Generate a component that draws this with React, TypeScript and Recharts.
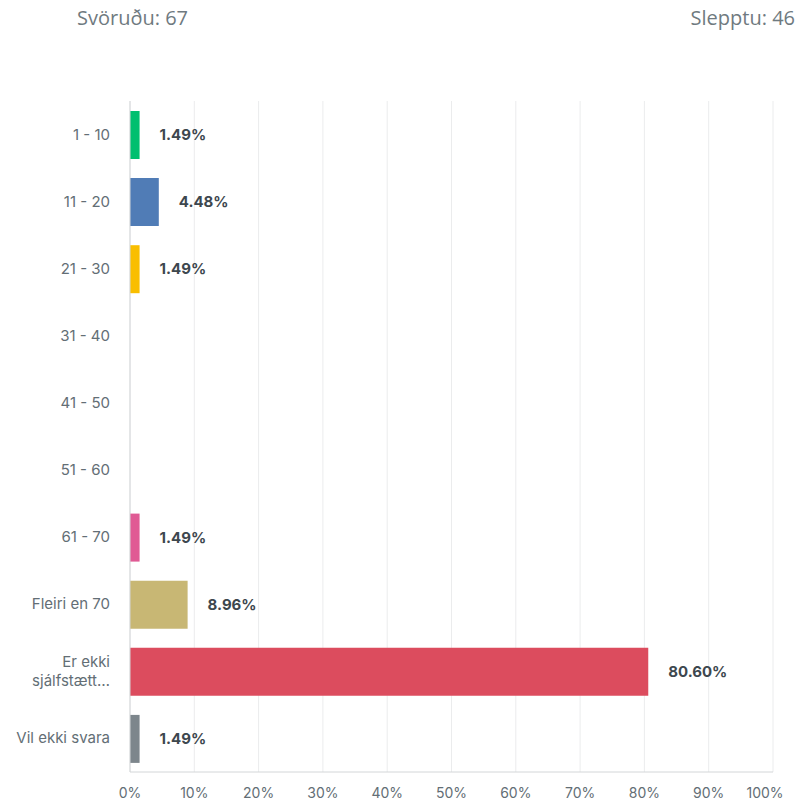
import { BarChart, Bar, XAxis, YAxis, CartesianGrid, Cell, LabelList } from 'recharts';

const categories = ['1 - 10', '11 - 20', '21 - 30', '31 - 40', '41 - 50', '51 - 60', '61 - 70', 'Fleiri en 70', 'Er ekki sjálfstætt…', 'Vil ekki svara'];
const percents = [1.49, 4.48, 1.49, 0, 0, 0, 1.49, 8.96, 80.6, 1.49];
const barColors = ['#00bf6f', '#507cb6', '#f9be00', '#6bc8cd', '#ff8b4f', '#7f7fb9', '#e05a94', '#c8b774', '#dc4c5e', '#7d868c'];
const xTicks = [0, 10, 20, 30, 40, 50, 60, 70, 80, 90, 100];

const answered = 67;
const skipped = 46;

const data = categories.map((name, i) => ({ name, value: percents[i] }));

const FONT = 'Inter, "Open Sans", sans-serif';

function wrapLabel(text: string, maxChars = 14) {
  const words = text.split(' ');
  const lines: string[] = [];
  let cur = '';
  for (const w of words) {
    const next = cur ? `${cur} ${w}` : w;
    if (next.length > maxChars && cur) {
      lines.push(cur);
      cur = w;
    } else {
      cur = next;
    }
  }
  if (cur) lines.push(cur);
  return lines;
}

function CategoryTick({ x, y, payload }: any) {
  const lines = wrapLabel(String(payload.value));
  const lineH = 19;
  const start = -((lines.length - 1) * lineH) / 2;
  return (
    <text x={x} y={y} textAnchor="end" fill="#636e75" fontSize={15} fontFamily={FONT}>
      {lines.map((l, i) => (
        <tspan key={i} x={x} dy={i === 0 ? start + 5 : lineH}>{l}</tspan>
      ))}
    </text>
  );
}

function PercentTick({ x, y, payload, index }: any) {
  // last label is pulled in a little so it stays inside the frame
  const shift = index === xTicks.length - 1 ? -8 : 0;
  return (
    <text x={x + shift} y={y} dy="0.71em" textAnchor="middle" fill="#636e75" fontSize={14} fontFamily={FONT}>
      {`${payload.value}%`}
    </text>
  );
}

function ValueLabel({ x, y, width, height, value }: any) {
  if (!value) return null;
  return (
    <text
      x={x + width + 20}
      y={y + height / 2}
      dy={5}
      fill="#3d474e"
      fontSize={15}
      fontWeight={700}
      fontFamily={FONT}
    >
      {`${Number(value).toFixed(2)}%`}
    </text>
  );
}

export default function App() {
  return (
    <div style={{ position: 'absolute', left: 0, top: 0, width: 797, height: 803, background: '#fff', fontFamily: FONT }}>
      <div style={{ position: 'absolute', left: 77, top: 4, fontSize: 20, color: '#6f7a80', fontFamily: '"Open Sans", sans-serif' }}>
        Svöruðu: {answered}
      </div>
      <div style={{ position: 'absolute', right: 2, top: 4, fontSize: 20, color: '#6f7a80', fontFamily: '"Open Sans", sans-serif' }}>
        Slepptu: {skipped}
      </div>
      <BarChart
        width={797}
        height={803}
        data={data}
        layout="vertical"
        margin={{ top: 101, right: 24, bottom: 0, left: 0 }}
        barSize={48}
      >
        <CartesianGrid horizontal={false} stroke="#ebeced" />
        <XAxis
          type="number"
          domain={[0, 100]}
          ticks={xTicks}
          height={31}
          axisLine={{ stroke: '#d3d6d8' }}
          tickLine={false}
          tickMargin={10}
          interval={0}
          tick={<PercentTick />}
        />
        <YAxis
          type="category"
          dataKey="name"
          width={130}
          axisLine={{ stroke: '#d3d6d8' }}
          tickLine={false}
          tickMargin={14}
          interval={0}
          tick={<CategoryTick />}
        />
        <Bar dataKey="value" isAnimationActive={false}>
          {data.map((d, i) => (
            <Cell key={d.name} fill={barColors[i]} />
          ))}
          <LabelList dataKey="value" content={<ValueLabel />} />
        </Bar>
      </BarChart>
    </div>
  );
}
